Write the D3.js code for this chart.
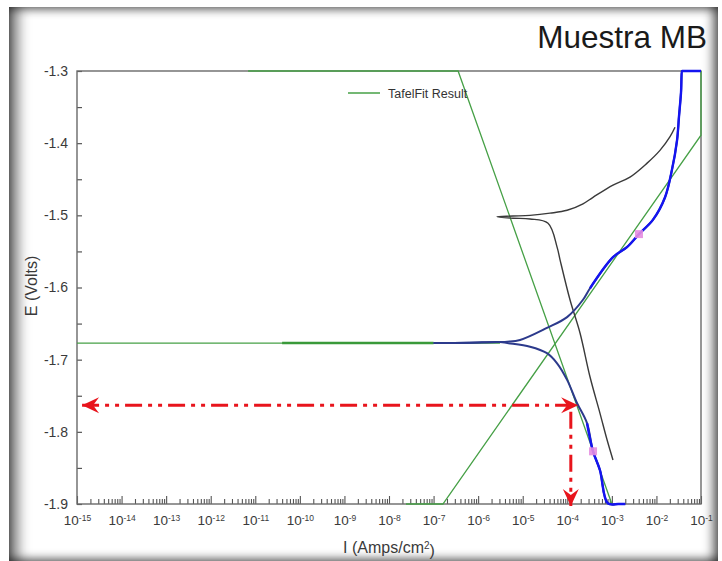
<!DOCTYPE html>
<html>
<head>
<meta charset="utf-8">
<script src="https://cdn.jsdelivr.net/npm/d3@7"></script>
<style>
  html, body { margin: 0; padding: 0; background: #fff; width: 722px; height: 561px; overflow: hidden; }
  #card {
    position: absolute; left: 9px; top: 7px; width: 709px; height: 556px; background: #fff;
    box-shadow:
      inset 14px 0 14px -6px rgba(0,0,0,0.6),
      inset 0 7px 10px -4px rgba(0,0,0,0.45),
      inset -10px 0 10px -4px rgba(0,0,0,0.5),
      inset 0 -8px 8px -3px rgba(0,0,0,0.5);
  }
  svg { position: absolute; left: 0; top: 0; }
  text { font-family: "Liberation Sans", Arial, Helvetica, sans-serif; }
</style>
</head>
<body>
<div id="card"></div>
<svg id="chart" width="722" height="561"></svg>
<script>
// ---- axis definitions ----
const currentDecades = d3.range(-15, 0).map(p => Math.pow(10, p));   // 1e-15 .. 1e-1 A/cm2
const potentialTicks = [-1.3, -1.4, -1.5, -1.6, -1.7, -1.8, -1.9];     // V
const potentialMinorTicks = [-1.35, -1.45, -1.55, -1.65, -1.75, -1.85];

// ---- polarization scans, [current A/cm2, potential V] ----
// cathodic branch of the blue scan, from Ecorr outward
const scanCathodic = [
  [1.0e-7, -1.677], [6.3e-7, -1.6765], [3.1e-6, -1.6755], [4.5e-6, -1.677],
  [1.46e-5, -1.682], [3.5e-5, -1.691], [5.9e-5, -1.705], [9.9e-5, -1.728],
  [1.65e-4, -1.760], [2.77e-4, -1.788], [3.78e-4, -1.827], [5.4e-4, -1.853],
  [8.1e-4, -1.899], [1.4e-3, -1.93], [2.0e-3, -1.96]
];
// anodic branch of the blue scan, from Ecorr outward
const scanAnodic = [
  [1.0e-7, -1.677], [6.3e-7, -1.6765], [3.1e-6, -1.6755], [4.5e-6, -1.675],
  [8.7e-6, -1.6727], [3.5e-5, -1.656], [9.9e-5, -1.641], [2.25e-4, -1.617],
  [3.24e-4, -1.601], [1.06e-3, -1.558], [2.19e-3, -1.544], [4.06e-3, -1.526],
  [8.4e-3, -1.506], [1.56e-2, -1.475], [2.23e-2, -1.437], [2.9e-2, -1.396],
  [3.2e-2, -1.364], [3.56e-2, -1.330], [3.75e-2, -1.300], [3.8e-2, -1.27], [0.16, -1.25]
];
// second (black) scan
const scanReverse = [
  [1.06e-3, -1.839], [7.8e-4, -1.811], [5.4e-4, -1.774], [3.24e-4, -1.724],
  [1.93e-4, -1.663], [1.15e-4, -1.617], [6.9e-5, -1.562], [5.9e-5, -1.544],
  [3.7e-5, -1.511], [1.46e-5, -1.505], [6.05e-6, -1.504], [2.65e-6, -1.502],
  [6.05e-6, -1.501], [1.46e-5, -1.500], [4.1e-5, -1.497], [9.9e-5, -1.493],
  [2.25e-4, -1.484], [3.78e-4, -1.475], [1.06e-3, -1.458], [2.55e-3, -1.447],
  [6.1e-3, -1.428], [1.2e-2, -1.410], [2.02e-2, -1.391], [2.61e-2, -1.378]
];

// ---- Tafel fit result ----
const tafelCathodic = [[6.9e-12, -0.48], [3.55e-7, -1.3], [1.0e-3, -1.9]];
const tafelAnodic = [[2.4e-8, -1.973], [1.62e-7, -1.9], [0.1, -1.389], [1.6, -1.283]];
const tafelEcorr = [[1e-15, -1.677], [3.1e-6, -1.677]];
const fitNearEcorr = [[4.0e-11, -1.677], [1.0e-7, -1.677]];
const fitRegionMarks = [[4.06e-3, -1.526], [3.78e-4, -1.827]];

// ---- reading arrows ----
const readE = -1.763;
const readFromI = 1.3e-15;
const readToI = 1.75e-4;
const readDropI = 1.2e-4;
const readDropTopE = -1.772;

// ---- layout ----
const plot = { left: 77, right: 701, top: 71, bottom: 504 };
const svg = d3.select("#chart");

const x = d3.scaleLog().domain([1e-15, 1e-1]).range([plot.left, plot.right]).clamp(true);
const y = d3.scaleLinear().domain([-1.3, -1.9]).range([plot.top, plot.bottom]).clamp(true);

const line = d3.line().x(d => x(d[0])).y(d => y(d[1]));
const smooth = d3.line().x(d => x(d[0])).y(d => y(d[1])).curve(d3.curveCatmullRom.alpha(0.5));

// title
svg.append("text")
  .attr("x", 707).attr("y", 48)
  .attr("text-anchor", "end")
  .attr("font-size", 31.5)
  .attr("fill", "#1a1a1a")
  .text("Muestra MB");

// y axis ticks (pointing into the plot)
const yAxis = svg.append("g").attr("transform", `translate(${plot.left},0)`)
  .call(d3.axisLeft(y).tickValues(potentialTicks).tickSize(-5).tickPadding(9)
    .tickFormat(d => d.toFixed(1)));
yAxis.select(".domain").remove();
yAxis.selectAll(".tick line").attr("stroke", "#555").attr("stroke-width", 1.2);
yAxis.selectAll(".tick text").attr("font-size", 14).attr("fill", "#3a3a3a").attr("font-family", null);

const yMinor = svg.append("g").attr("transform", `translate(${plot.left},0)`)
  .call(d3.axisLeft(y).tickValues(potentialMinorTicks).tickSize(-5).tickFormat(""));
yMinor.select(".domain").remove();
yMinor.selectAll(".tick line").attr("stroke", "#555").attr("stroke-width", 1.2);

// x axis ticks
const minorCurrents = [];
currentDecades.slice(0, -1).forEach(d => { for (let m = 2; m <= 9; m++) minorCurrents.push(m * d); });

const xAxis = svg.append("g").attr("transform", `translate(0,${plot.bottom})`)
  .call(d3.axisBottom(x).tickValues(currentDecades).tickSize(-8).tickPadding(11).tickFormat(""));
xAxis.select(".domain").remove();
xAxis.selectAll(".tick line").attr("stroke", "#555").attr("stroke-width", 1.1);
xAxis.selectAll(".tick text").each(function(d) {
  const t = d3.select(this).attr("font-size", 13.5).attr("fill", "#3a3a3a").attr("font-family", null);
  t.append("tspan").text("10");
  t.append("tspan").attr("dy", "-0.45em").attr("font-size", 8.5).text(String(Math.round(Math.log10(d))));
});

const xMinor = svg.append("g").attr("transform", `translate(0,${plot.bottom})`)
  .call(d3.axisBottom(x).tickValues(minorCurrents).tickSize(-5).tickFormat(""));
xMinor.select(".domain").remove();
xMinor.selectAll(".tick line").attr("stroke", "#555").attr("stroke-width", 1.1);

// plot frame
svg.append("rect")
  .attr("x", plot.left).attr("y", plot.top)
  .attr("width", plot.right - plot.left).attr("height", plot.bottom - plot.top)
  .attr("fill", "none").attr("stroke", "#6a6a6a").attr("stroke-width", 1.4);

// axis titles
svg.append("text")
  .attr("x", 389).attr("y", 553)
  .attr("text-anchor", "middle").attr("font-size", 16).attr("fill", "#3a3a3a")
  .call(t => {
    t.append("tspan").text("I (Amps/cm");
    t.append("tspan").attr("dy", "-0.45em").attr("font-size", 10).text("2");
    t.append("tspan").attr("dy", "0.45em").text(")");
  });

svg.append("text")
  .attr("transform", "translate(37,286) rotate(-90)")
  .attr("text-anchor", "middle").attr("font-size", 16).attr("fill", "#3a3a3a")
  .text("E (Volts)");

// Tafel fit lines
const green = "#46a046";
[tafelEcorr, tafelCathodic, tafelAnodic].forEach(d => {
  svg.append("path").datum(d).attr("d", line)
    .attr("fill", "none").attr("stroke", green).attr("stroke-width", 1.3);
});
svg.append("path").datum(fitNearEcorr).attr("d", line)
  .attr("fill", "none").attr("stroke", "#3a9a3a").attr("stroke-width", 2.4);

// black scan
svg.append("path").datum(scanReverse).attr("d", smooth)
  .attr("fill", "none").attr("stroke", "#3a3a3a").attr("stroke-width", 1.4)
  .attr("stroke-linejoin", "round");

// blue scan: dark near Ecorr, bright in the Tafel regions
const navy = "#2c3a8c", blue = "#1414f0";
[scanCathodic, scanAnodic].forEach(d => {
  svg.append("path").datum(d).attr("d", smooth)
    .attr("fill", "none").attr("stroke", navy).attr("stroke-width", 2)
    .attr("stroke-linejoin", "round");
});
svg.append("path").datum(scanCathodic.filter(d => d[1] <= -1.785)).attr("d", smooth)
  .attr("fill", "none").attr("stroke", blue).attr("stroke-width", 2.4).attr("stroke-linejoin", "round");
svg.append("path").datum(scanAnodic.filter(d => d[1] >= -1.605)).attr("d", smooth)
  .attr("fill", "none").attr("stroke", blue).attr("stroke-width", 2.4).attr("stroke-linejoin", "round");

// fit region markers
svg.selectAll(".fitmark").data(fitRegionMarks).join("rect")
  .attr("class", "fitmark")
  .attr("x", d => x(d[0]) - 4).attr("y", d => y(d[1]) - 4)
  .attr("width", 8).attr("height", 8)
  .attr("fill", "#e58de0").attr("opacity", 0.9);

// legend
svg.append("line").attr("x1", 348).attr("x2", 380).attr("y1", 93).attr("y2", 93)
  .attr("stroke", green).attr("stroke-width", 1.5);
svg.append("text").attr("x", 388).attr("y", 97.5)
  .attr("font-size", 12.5).attr("fill", "#333")
  .text("TafelFit Result");

// reading arrows (Ecorr / Icorr)
const red = "#e8141c";
const defs = svg.append("defs");
defs.append("marker")
  .attr("id", "head").attr("markerUnits", "userSpaceOnUse")
  .attr("viewBox", "-18 -9 20 18").attr("refX", 0).attr("refY", 0)
  .attr("markerWidth", 20).attr("markerHeight", 18)
  .attr("orient", "auto-start-reverse")
  .append("path").attr("d", "M0,0 L-17,-8 L-11,0 L-17,8 Z").attr("fill", red);

const dash = "17 6 4 6 4 6";
svg.append("line")
  .attr("x1", x(readFromI)).attr("x2", x(readToI))
  .attr("y1", y(readE)).attr("y2", y(readE))
  .attr("stroke", red).attr("stroke-width", 3).attr("stroke-dasharray", dash)
  .attr("marker-start", "url(#head)").attr("marker-end", "url(#head)");
svg.append("line")
  .attr("x1", x(readDropI)).attr("x2", x(readDropI))
  .attr("y1", y(readDropTopE)).attr("y2", plot.bottom + 2)
  .attr("stroke", red).attr("stroke-width", 3).attr("stroke-dasharray", dash)
  .attr("marker-end", "url(#head)");
</script>
</body>
</html>
